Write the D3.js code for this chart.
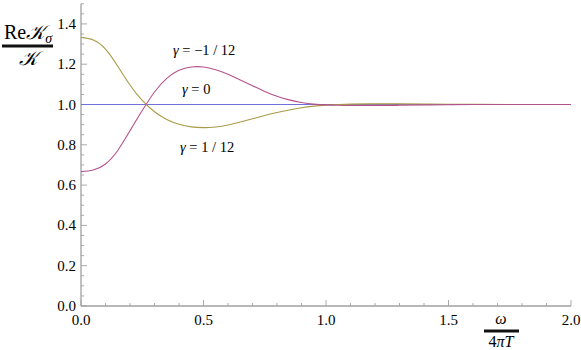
<!DOCTYPE html>
<html>
<head>
<meta charset="utf-8">
<script src="https://cdn.jsdelivr.net/npm/d3@7"></script>
<style>
  body { margin: 0; background: #fff; }
</style>
</head>
<body>
<div id="chart"></div>
<script>
// omega / (4 pi T)
const omega = [0, 0.05, 0.1, 0.15, 0.2, 0.25, 0.3, 0.35, 0.4, 0.45, 0.5, 0.55, 0.6, 0.65, 0.7, 0.75,
  0.8, 0.85, 0.9, 0.95, 1.0, 1.05, 1.1, 1.2, 1.3, 1.4, 1.5, 1.6, 1.8, 2.0];
// gamma = 1/12
const gammaPos = [1.333, 1.320, 1.275, 1.190, 1.097, 1.020, 0.964, 0.926, 0.902, 0.889, 0.885, 0.888,
  0.898, 0.913, 0.929, 0.945, 0.960, 0.973, 0.984, 0.992, 0.997, 1.000, 1.002, 1.003, 1.003, 1.002,
  1.001, 1.0005, 1.0, 1.0];
// gamma = -1/12
const gammaNeg = [0.667, 0.675, 0.705, 0.772, 0.870, 0.970, 1.062, 1.130, 1.170, 1.186, 1.186, 1.172,
  1.150, 1.122, 1.093, 1.065, 1.041, 1.023, 1.010, 1.002, 0.998, 0.996, 0.995, 0.995, 0.996, 0.998,
  0.999, 1.0, 1.0, 1.0];
// gamma = 0
const gammaZero = omega.map(() => 1.0);

const xTicks = [0, 0.5, 1.0, 1.5, 2.0];
const yTicks = [0, 0.2, 0.4, 0.6, 0.8, 1.0, 1.2, 1.4];

const serif = "'Liberation Serif', 'Times New Roman', 'DejaVu Serif', 'Noto Serif', serif";

const width = 581, height = 350;
const svg = d3.select("#chart").append("svg")
  .attr("width", width)
  .attr("height", height)
  .attr("font-family", serif);

const x = d3.scaleLinear().domain([0, 2]).range([81, 571]);
const y = d3.scaleLinear().domain([0, 1.5]).range([306, 3.75]);

const axisColor = "#a0a0a0";

// x axis
const gx = svg.append("g").attr("transform", "translate(0,306)");
gx.append("line").attr("x1", x(0)).attr("x2", x(2)).attr("stroke", axisColor).attr("stroke-width", 1.3);
gx.selectAll(".minor").data(d3.range(0, 2.0001, 0.1)).enter().append("line")
  .attr("x1", d => x(d)).attr("x2", d => x(d))
  .attr("y1", 0).attr("y2", (d, i) => i % 5 === 0 ? -6 : -3)
  .attr("stroke", axisColor).attr("stroke-width", 0.9);
gx.selectAll("text").data(xTicks).enter().append("text")
  .attr("x", d => x(d)).attr("y", 19)
  .attr("text-anchor", "middle")
  .attr("font-family", serif)
  .attr("font-size", 15)
  .text(d => d.toFixed(1));

// y axis
const gy = svg.append("g").attr("transform", "translate(81,0)");
gy.append("line").attr("y1", y(0)).attr("y2", y(1.5)).attr("stroke", axisColor).attr("stroke-width", 1.3);
gy.selectAll(".minor").data(d3.range(0, 1.5001, 0.05)).enter().append("line")
  .attr("y1", d => y(d)).attr("y2", d => y(d))
  .attr("x1", 0).attr("x2", (d, i) => i % 4 === 0 ? 6 : 3)
  .attr("stroke", axisColor).attr("stroke-width", 0.9);
gy.selectAll("text").data(yTicks).enter().append("text")
  .attr("x", -5).attr("y", d => y(d) + 5)
  .attr("text-anchor", "end")
  .attr("font-family", serif)
  .attr("font-size", 15)
  .text(d => d.toFixed(1));

// curves
const line = d3.line()
  .x(d => x(d[0]))
  .y(d => y(d[1]))
  .curve(d3.curveNatural);

const series = [
  { vals: gammaZero, color: "#7070dc" },
  { vals: gammaPos, color: "#a99b45" },
  { vals: gammaNeg, color: "#b4528f" }
];
series.forEach(s => {
  svg.append("path")
    .datum(omega.map((o, i) => [o, s.vals[i]]))
    .attr("fill", "none")
    .attr("stroke", s.color)
    .attr("stroke-width", 1.1)
    .attr("d", line);
});

// curve labels
const labels = [
  { t: "= \u22121 / 12", x: 173, y: 55 },
  { t: "= 0", x: 182, y: 94 },
  { t: "= 1 / 12", x: 180, y: 152 }
];
labels.forEach(l => {
  const t = svg.append("text").attr("x", l.x).attr("y", l.y)
    .attr("font-family", serif).attr("font-size", 14.5);
  t.append("tspan").attr("font-style", "italic").text("\u03b3");
  t.append("tspan").text(" " + l.t);
});

// y axis label: Re K_sigma / K
const yl = svg.append("g");
const num = yl.append("text").attr("x", 28).attr("y", 39).attr("text-anchor", "middle")
  .attr("font-family", serif).attr("font-size", 20);
num.append("tspan").text("Re");
num.append("tspan").attr("font-style", "italic").text("\ud835\udca6");
num.append("tspan").attr("font-style", "italic").attr("font-size", 14).attr("dy", 4).text("\u03c3");
yl.append("rect").attr("x", 2).attr("y", 44.5).attr("width", 51).attr("height", 3).attr("fill", "#111");
yl.append("text").attr("x", 28).attr("y", 65).attr("text-anchor", "middle")
  .attr("font-family", serif).attr("font-size", 20)
  .attr("font-style", "italic").text("\ud835\udca6");

// x axis label: omega / 4 pi T
const xl = svg.append("g");
xl.append("text").attr("x", 501).attr("y", 324).attr("text-anchor", "middle")
  .attr("font-family", serif).attr("font-size", 16)
  .attr("font-style", "italic").text("\u03c9");
xl.append("rect").attr("x", 484).attr("y", 329.5).attr("width", 35).attr("height", 3).attr("fill", "#111");
const den = xl.append("text").attr("x", 501).attr("y", 347).attr("text-anchor", "middle")
  .attr("font-family", serif).attr("font-size", 16);
den.append("tspan").text("4");
den.append("tspan").attr("font-style", "italic").text("\u03c0T");
</script>
</body>
</html>
